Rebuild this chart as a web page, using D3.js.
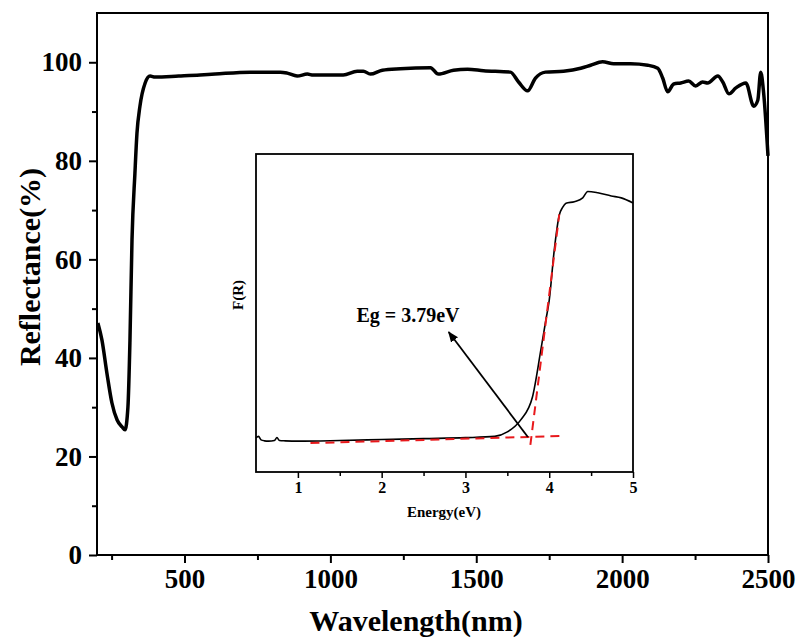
<!DOCTYPE html>
<html>
<head>
<meta charset="utf-8">
<script src="https://cdn.jsdelivr.net/npm/d3@7"></script>
<style>
    body { margin: 0; background: white; }
    text { font-family: "Liberation Serif", "Times New Roman", serif; font-weight: bold; }
</style>
</head>
<body>
<div id="viz"></div>
<script>

// main spectrum: wavelength (nm) vs reflectance (%)
var wavelength = [203, 217, 234, 251, 269, 286, 296, 306, 313, 320, 330, 337, 347, 365, 382, 399, 480, 553, 605, 725, 828, 852, 886, 921, 941, 1044, 1092, 1113, 1137, 1178, 1240, 1343, 1370, 1422, 1470, 1525, 1617, 1645, 1676, 1703, 1737, 1799, 1858, 1892, 1933, 1971, 2029, 2088, 2122, 2139, 2156, 2177, 2201, 2228, 2252, 2276, 2293, 2328, 2345, 2366, 2390, 2424, 2451, 2465, 2475, 2485, 2500]
var reflectance = [47.1, 43.6, 36.9, 30.9, 27.4, 26.0, 25.4, 30.0, 43.6, 64, 77.5, 85.6, 91, 95.8, 97.2, 97.0, 97.2, 97.4, 97.6, 98.0, 98.0, 97.8, 97.2, 97.6, 97.4, 97.4, 98.2, 98.2, 97.6, 98.4, 98.7, 98.9, 97.6, 98.4, 98.6, 98.3, 98.0, 96.0, 94.2, 96.8, 98.0, 98.2, 98.8, 99.4, 100.1, 99.7, 99.7, 99.4, 98.8, 96.8, 94.0, 95.6, 95.8, 96.2, 95.2, 96.0, 95.8, 97.2, 96.0, 93.6, 94.8, 95.8, 91.1, 92.3, 98.0, 93.8, 81]

var xTicks = [500, 1000, 1500, 2000, 2500]
var yTicks = [0, 20, 40, 60, 80, 100]

// inset: energy (eV) vs F(R), arbitrary units
var energy = [0.5, 0.53, 0.56, 0.6, 0.65, 0.72, 0.75, 0.78, 0.85, 1.0, 1.5, 2.0, 2.5, 3.0, 3.35, 3.5, 3.66, 3.8, 3.9, 3.96, 4.0, 4.06, 4.12, 4.16, 4.2, 4.3, 4.4, 4.46, 4.58, 4.74, 4.86, 5.0]
var fr = [0.107, 0.112, 0.101, 0.098, 0.097, 0.099, 0.108, 0.099, 0.098, 0.097, 0.099, 0.102, 0.105, 0.108, 0.112, 0.126, 0.164, 0.236, 0.384, 0.478, 0.54, 0.698, 0.808, 0.832, 0.845, 0.850, 0.862, 0.882, 0.878, 0.868, 0.862, 0.846]
var insetTicks = [1, 2, 3, 4, 5]

// tangent lines for the band gap estimate
var baseFit = [[1.15, 0.091], [4.14, 0.113]]
var edgeFit = [[3.775, 0.085], [4.12, 0.81]]
var arrowPts = [[3.745, 0.11], [2.80, 0.44]]

const width = 800
const height = 641

const svg = d3.select("#viz").append("svg")
    .attr("width", width)
    .attr("height", height)

const m = { left: 97, right: 768, top: 13, bottom: 555 }

const x = d3.scaleLinear().domain([200, 2500]).range([m.left, m.right])
const y = d3.scaleLinear().domain([0, 110]).range([m.bottom, m.top])

// frame
svg.append("rect")
    .attr("x", m.left).attr("y", m.top)
    .attr("width", m.right - m.left).attr("height", m.bottom - m.top)
    .attr("fill", "none").attr("stroke", "black").attr("stroke-width", 2)

// minor ticks
svg.append("g")
    .attr("transform", `translate(0,${m.bottom})`)
    .call(d3.axisBottom(x).tickValues([250, 750, 1250, 1750, 2250]).tickSize(5).tickFormat(""))
    .call(g => g.select(".domain").remove())
    .selectAll("line").attr("stroke-width", 2)

svg.append("g")
    .attr("transform", `translate(${m.left},0)`)
    .call(d3.axisLeft(y).tickValues([10, 30, 50, 70, 90]).tickSize(5).tickFormat(""))
    .call(g => g.select(".domain").remove())
    .selectAll("line").attr("stroke-width", 2)

// major ticks
const xAxis = svg.append("g")
    .attr("transform", `translate(0,${m.bottom})`)
    .call(d3.axisBottom(x).tickValues(xTicks).tickFormat(d3.format("d")).tickSize(8).tickPadding(6))
xAxis.select(".domain").remove()
xAxis.selectAll("line").attr("stroke-width", 2)
xAxis.selectAll("text")
    .attr("font-size", 27)
    .attr("font-family", "Liberation Serif")
    .attr("font-weight", "bold")
    .attr("fill", "black")

const yAxis = svg.append("g")
    .attr("transform", `translate(${m.left},0)`)
    .call(d3.axisLeft(y).tickValues(yTicks).tickFormat(d3.format("d")).tickSize(8).tickPadding(7))
yAxis.select(".domain").remove()
yAxis.selectAll("line").attr("stroke-width", 2)
yAxis.selectAll("text")
    .attr("font-size", 27)
    .attr("font-family", "Liberation Serif")
    .attr("font-weight", "bold")
    .attr("fill", "black")

svg.append("text")
    .attr("x", 416).attr("y", 631)
    .attr("text-anchor", "middle")
    .attr("font-size", 30)
    .text("Wavelength(nm)")

svg.append("text")
    .attr("transform", "translate(40,267) rotate(-90)")
    .attr("text-anchor", "middle")
    .attr("font-size", 30)
    .text("Reflectance(%)")

const mainLine = d3.line()
    .x((d, i) => x(wavelength[i]))
    .y((d, i) => y(reflectance[i]))
    .curve(d3.curveMonotoneX)

svg.append("path")
    .datum(wavelength)
    .attr("d", mainLine)
    .attr("fill", "none")
    .attr("stroke", "black")
    .attr("stroke-width", 3.5)
    .attr("stroke-linejoin", "round")

// ---- inset ----
const ins = { left: 256, right: 633, top: 154, bottom: 472 }
const ix = d3.scaleLinear().domain([0.5, 5]).range([ins.left, ins.right])
const iy = d3.scaleLinear().domain([0, 1]).range([ins.bottom, ins.top])

svg.append("rect")
    .attr("x", ins.left).attr("y", ins.top)
    .attr("width", ins.right - ins.left).attr("height", ins.bottom - ins.top)
    .attr("fill", "white").attr("stroke", "black").attr("stroke-width", 1.8)

const ixMinor = svg.append("g")
    .attr("transform", `translate(0,${ins.bottom})`)
    .call(d3.axisBottom(ix).tickValues([1.5, 2.5, 3.5, 4.5]).tickSize(4).tickFormat(""))
ixMinor.select(".domain").remove()
ixMinor.selectAll("line").attr("stroke-width", 1.5)

const ixAxis = svg.append("g")
    .attr("transform", `translate(0,${ins.bottom})`)
    .call(d3.axisBottom(ix).tickValues(insetTicks).tickFormat(d3.format("d")).tickSize(6).tickPadding(4))
ixAxis.select(".domain").remove()
ixAxis.selectAll("line").attr("stroke-width", 1.5)
ixAxis.selectAll("text")
    .attr("font-size", 16)
    .attr("font-family", "Liberation Serif")
    .attr("font-weight", "bold")
    .attr("fill", "black")

svg.append("text")
    .attr("x", 444).attr("y", 517)
    .attr("text-anchor", "middle")
    .attr("font-size", 15)
    .text("Energy(eV)")

svg.append("text")
    .attr("transform", "translate(243,295) rotate(-90)")
    .attr("text-anchor", "middle")
    .attr("font-size", 15)
    .text("F(R)")

const insetLine = d3.line()
    .x((d, i) => ix(energy[i]))
    .y((d, i) => iy(fr[i]))
    .curve(d3.curveMonotoneX)

svg.append("path")
    .datum(energy)
    .attr("d", insetLine)
    .attr("fill", "none")
    .attr("stroke", "black")
    .attr("stroke-width", 1.6)

const fitLine = d3.line().x(d => ix(d[0])).y(d => iy(d[1]))

svg.selectAll(".fit")
    .data([baseFit, edgeFit])
    .join("path")
    .attr("class", "fit")
    .attr("d", fitLine)
    .attr("fill", "none")
    .attr("stroke", "#e8191c")
    .attr("stroke-width", 2)
    .attr("stroke-dasharray", "9,6")

svg.append("defs").append("marker")
    .attr("id", "head")
    .attr("viewBox", "0 0 10 10")
    .attr("refX", 9).attr("refY", 5)
    .attr("markerWidth", 6).attr("markerHeight", 6)
    .attr("markerUnits", "strokeWidth")
    .attr("orient", "auto")
    .append("path")
    .attr("d", "M0,1 L10,5 L0,9 Z")
    .attr("fill", "black")

svg.append("path")
    .datum(arrowPts)
    .attr("d", fitLine)
    .attr("stroke", "black")
    .attr("stroke-width", 1.8)
    .attr("marker-end", "url(#head)")

svg.append("text")
    .attr("x", 408).attr("y", 322)
    .attr("text-anchor", "middle")
    .attr("font-size", 20)
    .text("Eg = 3.79eV")

</script>
</body>
</html>
